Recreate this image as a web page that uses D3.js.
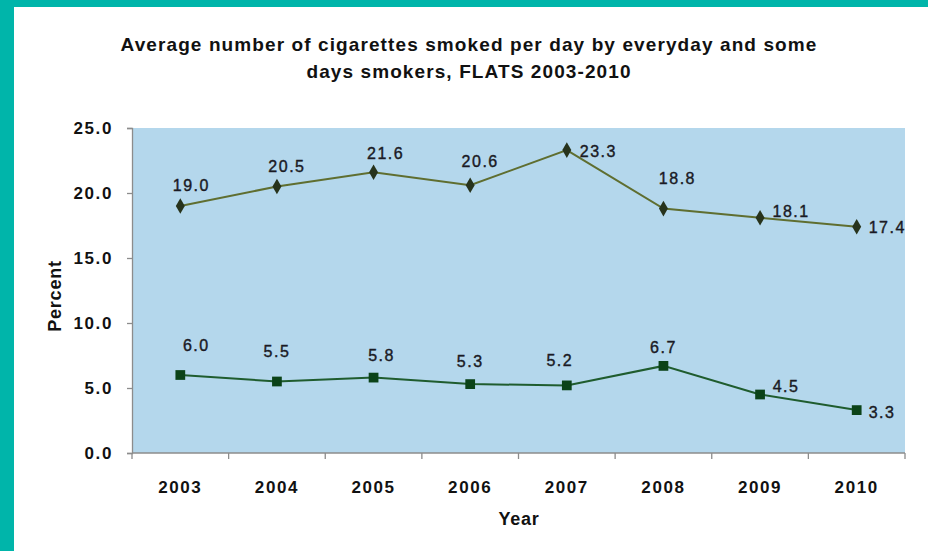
<!DOCTYPE html>
<html>
<head>
<meta charset="utf-8">
<script src="https://cdn.jsdelivr.net/npm/d3@7/dist/d3.min.js"></script>
<style>
  html, body { margin: 0; padding: 0; background: #ffffff; }
  svg { display: block; }
  text { font-family: "Liberation Sans", Arial, sans-serif; }
</style>
</head>
<body>
<svg id="chart" width="928" height="551"></svg>
<script>
// Survey years on the x axis
const years = ["2003", "2004", "2005", "2006", "2007", "2008", "2009", "2010"];
// Average cigarettes per day, everyday smokers
const everydayValues = [19.0, 20.5, 21.6, 20.6, 23.3, 18.8, 18.1, 17.4];
// Average cigarettes per day, some days smokers
const somedaysValues = [6.0, 5.5, 5.8, 5.3, 5.2, 6.7, 4.5, 3.3];
// Y axis ticks
const yTicks = [0, 5, 10, 15, 20, 25];

// Where each value label sits relative to its marker [dx, dy]
const everydayLabelOffsets = [[11, -21], [10, -20], [12, -19], [10, -24], [13, 1], [14, -30], [31, -6], [12, 1]];
const somedaysLabelOffsets = [[16, -30], [0, -30], [8, -22], [0, -23], [-7, -25], [0, -19], [26, -8], [12, 2]];

const svg = d3.select("#chart");
const W = 928, H = 551;
const margin = { left: 132, right: 23, top: 128, bottom: 98 };
const plotW = W - margin.left - margin.right;
const plotH = H - margin.top - margin.bottom;

// Teal frame along the top and left edges
svg.append("rect").attr("x", 0).attr("y", 0).attr("width", W).attr("height", 7).attr("fill", "#00b5aa");
svg.append("rect").attr("x", 0).attr("y", 0).attr("width", 14).attr("height", H).attr("fill", "#00b5aa");

// Title
const title = svg.append("text")
  .attr("x", 469).attr("text-anchor", "middle")
  .attr("font-size", 19).attr("font-weight", "bold").attr("fill", "#111")
  .attr("letter-spacing", 1.1);
title.append("tspan").attr("x", 469).attr("y", 51).text("Average number of cigarettes smoked per day by everyday and some");
title.append("tspan").attr("x", 469).attr("y", 78).text("days smokers, FLATS 2003-2010");

const g = svg.append("g").attr("transform", `translate(${margin.left},${margin.top})`);

const x = d3.scaleBand().domain(years).range([0, plotW]);
const y = d3.scaleLinear().domain([0, 25]).range([plotH, 0]);

// Plot background
g.append("rect").attr("x", 0).attr("y", 0).attr("width", plotW).attr("height", plotH).attr("fill", "#b4d7ec");

// Y axis
const yAxis = g.append("g")
  .call(d3.axisLeft(y).tickValues(yTicks).tickFormat(d3.format(".1f")).tickSize(5).tickPadding(14));
yAxis.select(".domain").attr("stroke", "#8c8c8c").attr("stroke-width", 1.3);
yAxis.selectAll(".tick line").attr("stroke", "#8c8c8c").attr("stroke-width", 1.3);
yAxis.selectAll(".tick text")
  .attr("font-family", "Liberation Sans, Arial, sans-serif")
  .attr("font-size", 17).attr("font-weight", "bold").attr("fill", "#111")
  .attr("letter-spacing", 1.6);

// X axis with ticks on the category boundaries
const xAxis = g.append("g").attr("transform", `translate(0,${plotH})`);
xAxis.append("line").attr("x1", 0).attr("x2", plotW).attr("y1", 0).attr("y2", 0)
  .attr("stroke", "#8c8c8c").attr("stroke-width", 1.3);
const boundaries = years.map(d => x(d)).concat([x(years[years.length - 1]) + x.bandwidth()]);
xAxis.selectAll("line.tick").data(boundaries).join("line")
  .attr("class", "tick")
  .attr("x1", d => d).attr("x2", d => d).attr("y1", 0).attr("y2", 6)
  .attr("stroke", "#8c8c8c").attr("stroke-width", 1.3);
xAxis.selectAll("text.label").data(years).join("text")
  .attr("class", "label")
  .attr("x", d => x(d) + x.bandwidth() / 2).attr("y", 40)
  .attr("text-anchor", "middle")
  .attr("font-size", 17).attr("font-weight", "bold").attr("fill", "#111")
  .attr("letter-spacing", 1.6)
  .text(d => d);

// Axis titles
svg.append("text")
  .attr("x", 519).attr("y", 525).attr("text-anchor", "middle")
  .attr("font-size", 18).attr("font-weight", "bold").attr("fill", "#111")
  .attr("letter-spacing", 0.8)
  .text("Year");
svg.append("text")
  .attr("transform", "translate(61,296) rotate(-90)").attr("text-anchor", "middle")
  .attr("font-size", 18).attr("font-weight", "bold").attr("fill", "#111")
  .attr("letter-spacing", 0.8)
  .text("Percent");

const cx = d => x(d) + x.bandwidth() / 2;

function drawSeries(values, offsets, lineColor, markerColor, symbolType, symbolSize, startAnchored) {
  const pts = years.map((yr, i) => ({ yr, v: values[i], off: offsets[i], start: startAnchored.includes(i) }));
  g.append("path").datum(pts)
    .attr("fill", "none").attr("stroke", lineColor).attr("stroke-width", 2)
    .attr("d", d3.line().x(d => cx(d.yr)).y(d => y(d.v)));
  g.selectAll(null).data(pts).join("path")
    .attr("transform", d => `translate(${cx(d.yr)},${y(d.v)})`)
    .attr("d", d3.symbol().type(symbolType).size(symbolSize))
    .attr("fill", markerColor);
  g.selectAll(null).data(pts).join("text")
    .attr("x", d => cx(d.yr) + d.off[0]).attr("y", d => y(d.v) + d.off[1])
    .attr("text-anchor", d => d.start ? "start" : "middle")
    .attr("dy", "0.35em")
    .attr("font-size", 16).attr("fill", "#1a1a24")
    .attr("stroke", "#1a1a24").attr("stroke-width", 0.4)
    .attr("letter-spacing", 1.5)
    .text(d => d3.format(".1f")(d.v));
}

drawSeries(everydayValues, everydayLabelOffsets, "#5f6e30", "#27331c", d3.symbolDiamond, 70, [4, 7]);
drawSeries(somedaysValues, somedaysLabelOffsets, "#1f5c2e", "#0b4318", d3.symbolSquare, 95, [7]);
</script>
</body>
</html>
